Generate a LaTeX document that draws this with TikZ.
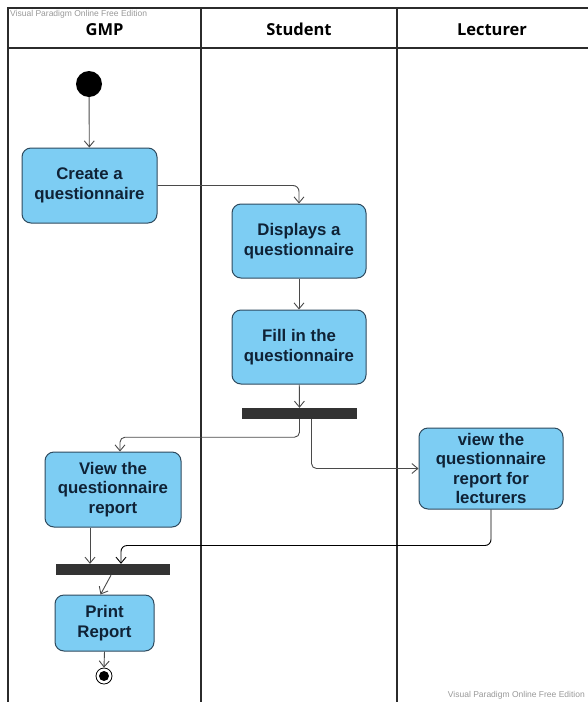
\documentclass[tikz,border=0pt]{standalone}
\usepackage{fontspec}
\setmainfont{Liberation Sans}
\newfontfamily\headfont{Open Sans}
\usetikzlibrary{arrows.meta,positioning,calc}
\definecolor{actfill}{HTML}{7DCDF3}
\definecolor{actdraw}{HTML}{2E4A5E}
\definecolor{acttext}{HTML}{0F2236}
\definecolor{lanecol}{HTML}{2B2B2B}
\definecolor{flowcol}{HTML}{4A4A4A}
\definecolor{barcol}{HTML}{333333}
\tikzset{
  act/.style={draw=actdraw, line width=1pt, fill=actfill, rounded corners=9pt,
    text=acttext, font=\fontsize{16.8}{19.5}\selectfont\bfseries, align=center,
    inner sep=0pt},
  bar/.style={fill=barcol, draw=none, inner sep=0pt, minimum height=11pt},
  flow/.style={draw=flowcol, line width=0.9pt, -{Straight Barb[length=6pt,width=10pt]}},
  lane/.style={draw=lanecol, line width=2.6pt},
  head/.style={font=\headfont\fontsize{16.5}{19}\selectfont\bfseries, text=black},
  wm/.style={font=\fontsize{8.5}{9}\selectfont, text=gray!80}
}
\begin{document}
\begin{tikzpicture}[x=1pt,y=-1pt]
\useasboundingbox (0,0) rectangle (587,702);
\fill[white] (0,0) rectangle (587,702);
% swimlanes
\draw[lane] (8,8) -- (590,8);
\draw[lane] (8,48) -- (590,48);
\draw[lane] (8,7) -- (8,702);
\draw[lane] (201,7) -- (201,702);
\draw[lane] (397,7) -- (397,702);
\node[head] (hg) at (104.5,29.5) {GMP};
\node[head] (hs) at (299,29.5) {Student};
\node[head] (hl) at (492,29.5) {Lecturer};
\node[wm, anchor=west, inner sep=1pt] (wm1) at (9,14) {Visual Paradigm Online Free Edition};
\node[wm, anchor=east, inner sep=1pt] (wm2) at (586,695) {Visual Paradigm Online Free Edition};
% nodes
\node[circle, fill=black, minimum size=26pt, inner sep=0pt] (start) at (89,84) {};
\node[act, minimum width=135pt, minimum height=75pt] (create) at (89.5,185.5) {Create a\\questionnaire};
\node[act, minimum width=134pt, minimum height=74pt] (disp) at (299,241) {Displays a\\questionnaire};
\node[act, minimum width=134pt, minimum height=74pt] (fill) at (299,347) {Fill in the\\questionnaire};
\node[bar, minimum width=115pt] (fork) at (299.5,413.5) {};
\node[act, minimum width=144pt, minimum height=81pt] (lect) at (491,468.5) {view the\\questionnaire\\report for\\lecturers};
\node[act, minimum width=136pt, minimum height=75pt] (viewg) at (113,489.5) {View the\\questionnaire\\report};
\node[bar, minimum width=114pt] (join) at (113,569.5) {};
\node[act, minimum width=99pt, minimum height=56pt] (print) at (104.5,623) {Print\\Report};
\node[circle, draw=black, line width=0.8pt, fill=white, minimum size=16pt, inner sep=0pt] (end) at (104,676) {};
\node[circle, fill=black, minimum size=10pt, inner sep=0pt] (endin) at (end.center) {};
% flows
\draw[flow] (start) -- (create);
\draw[flow, rounded corners=6pt] (create.east) -| (disp.north);
\draw[flow] (disp) -- (fill);
\draw[flow] (fill) -- (fork);
\draw[flow, rounded corners=5pt] (fork.south) -- ++(0,18) -| ([xshift=7pt]viewg.north);
\draw[flow, rounded corners=5pt] ([xshift=12pt]fork.south) |- (lect.west);
\draw[flow] ([xshift=-23pt]viewg.south) -- ([xshift=-23pt]join.north);
\draw[flow, draw=black, rounded corners=6pt] (lect.south) -- ++(0,36) -| ([xshift=8pt]join.north);
\draw[flow] ([xshift=-2pt]join.south) -- ([xshift=-4pt]print.north);
\draw[flow] (print.south) -- (end.north);
\end{tikzpicture}
\end{document}
